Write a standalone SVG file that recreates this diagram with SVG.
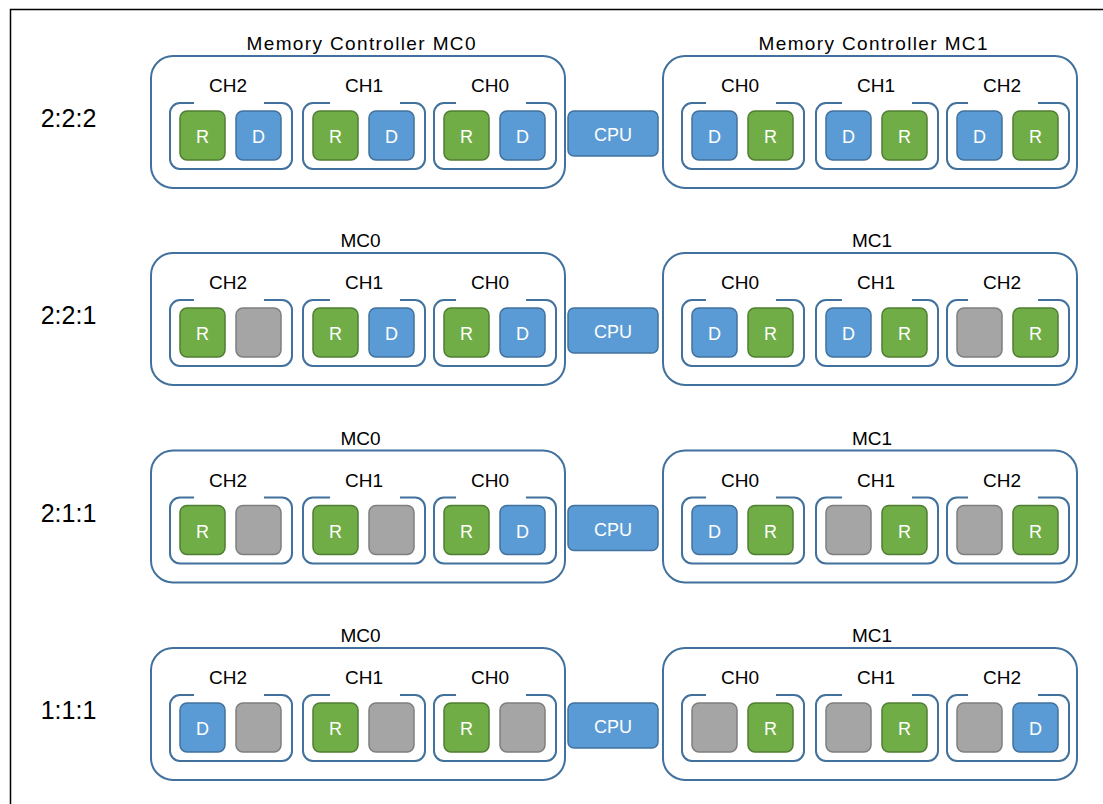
<svg xmlns="http://www.w3.org/2000/svg" xmlns:xlink="http://www.w3.org/1999/xlink" width="1103" height="804" viewBox="0 0 1103 804">
<style>
.frame{fill:none;stroke:#000;stroke-width:1.5}
.mc{fill:#fff;stroke:#41719C;stroke-width:2}
.ch{fill:none;stroke:#41719C;stroke-width:2}
.r{fill:#70AD47;stroke:#507E32;stroke-width:1.5}
.d{fill:#5B9BD5;stroke:#41719C;stroke-width:1.5}
.g{fill:#A5A5A5;stroke:#7F7F7F;stroke-width:1.5}
.cpu{fill:#5B9BD5;stroke:#41719C;stroke-width:1.5}
text{font-family:"Liberation Sans",Arial,sans-serif;font-size:19px;fill:#000;text-anchor:middle}
text.w{fill:#fff;font-size:18px}
text.row{font-size:25px}
</style>
<defs>
<path id="cA" class="ch" d="M24,0H10A10,10 0 0 0 0,10V56A10,10 0 0 0 10,66H112A10,10 0 0 0 122,56V10A10,10 0 0 0 112,0H94"/>
<path id="cB" class="ch" d="M27,0H10A10,10 0 0 0 0,10V56A10,10 0 0 0 10,66H112A10,10 0 0 0 122,56V10A10,10 0 0 0 112,0H97"/>
<path id="cC" class="ch" d="M22,0H10A10,10 0 0 0 0,10V56A10,10 0 0 0 10,66H112A10,10 0 0 0 122,56V10A10,10 0 0 0 112,0H92"/>
<path id="cD" class="ch" d="M24,0H10A10,10 0 0 0 0,10V56A10,10 0 0 0 10,66H112A10,10 0 0 0 122,56V10A10,10 0 0 0 112,0H94"/>
<path id="cE" class="ch" d="M26,0H10A10,10 0 0 0 0,10V56A10,10 0 0 0 10,66H112A10,10 0 0 0 122,56V10A10,10 0 0 0 112,0H96"/>
<path id="cF" class="ch" d="M21,0H10A10,10 0 0 0 0,10V56A10,10 0 0 0 10,66H112A10,10 0 0 0 122,56V10A10,10 0 0 0 112,0H91"/>
</defs>
<path id="frame" class="frame" d="M10.5,804V9.5H1103"/>

<!-- Row 1 -->
<g id="row1">
<text class="row" x="68.5" y="127">2:2:2</text>
<g id="r1-mc0"><rect class="mc" x="151" y="56" width="414" height="132" rx="22"/><text x="361" y="50" textLength="229" lengthAdjust="spacing">Memory Controller MC0</text></g>
<g id="r1-mc0-ch2" transform="translate(170,103)"><use href="#cA"/><text x="58" y="-11">CH2</text>
<g id="r1-mc0-ch2-d1"><rect class="r" x="10" y="8" width="45" height="49" rx="7"/><text class="w" x="32.5" y="40">R</text></g>
<g id="r1-mc0-ch2-d2"><rect class="d" x="66" y="8" width="45" height="49" rx="7"/><text class="w" x="88.5" y="40">D</text></g></g>
<g id="r1-mc0-ch1" transform="translate(303,103)"><use href="#cB"/><text x="61" y="-11">CH1</text>
<g id="r1-mc0-ch1-d1"><rect class="r" x="10" y="8" width="45" height="49" rx="7"/><text class="w" x="32.5" y="40">R</text></g>
<g id="r1-mc0-ch1-d2"><rect class="d" x="66" y="8" width="45" height="49" rx="7"/><text class="w" x="88.5" y="40">D</text></g></g>
<g id="r1-mc0-ch0" transform="translate(434,103)"><use href="#cC"/><text x="56" y="-11">CH0</text>
<g id="r1-mc0-ch0-d1"><rect class="r" x="10" y="8" width="45" height="49" rx="7"/><text class="w" x="32.5" y="40">R</text></g>
<g id="r1-mc0-ch0-d2"><rect class="d" x="66" y="8" width="45" height="49" rx="7"/><text class="w" x="88.5" y="40">D</text></g></g>
<g id="r1-cpu"><rect class="cpu" x="568" y="111" width="90" height="45" rx="6"/><text class="w" x="613" y="141">CPU</text></g>
<g id="r1-mc1"><rect class="mc" x="663" y="56" width="414" height="132" rx="22"/><text x="873" y="50" textLength="229" lengthAdjust="spacing">Memory Controller MC1</text></g>
<g id="r1-mc1-ch0" transform="translate(682,103)"><use href="#cD"/><text x="58" y="-11">CH0</text>
<g id="r1-mc1-ch0-d1"><rect class="d" x="10" y="8" width="45" height="49" rx="7"/><text class="w" x="32.5" y="40">D</text></g>
<g id="r1-mc1-ch0-d2"><rect class="r" x="66" y="8" width="45" height="49" rx="7"/><text class="w" x="88.5" y="40">R</text></g></g>
<g id="r1-mc1-ch1" transform="translate(816,103)"><use href="#cE"/><text x="60" y="-11">CH1</text>
<g id="r1-mc1-ch1-d1"><rect class="d" x="10" y="8" width="45" height="49" rx="7"/><text class="w" x="32.5" y="40">D</text></g>
<g id="r1-mc1-ch1-d2"><rect class="r" x="66" y="8" width="45" height="49" rx="7"/><text class="w" x="88.5" y="40">R</text></g></g>
<g id="r1-mc1-ch2" transform="translate(947,103)"><use href="#cF"/><text x="55" y="-11">CH2</text>
<g id="r1-mc1-ch2-d1"><rect class="d" x="10" y="8" width="45" height="49" rx="7"/><text class="w" x="32.5" y="40">D</text></g>
<g id="r1-mc1-ch2-d2"><rect class="r" x="66" y="8" width="45" height="49" rx="7"/><text class="w" x="88.5" y="40">R</text></g></g>
</g>

<!-- Row 2 -->
<g id="row2" transform="translate(0,197)">
<text class="row" x="68.5" y="127">2:2:1</text>
<g id="r2-mc0"><rect class="mc" x="151" y="56" width="414" height="132" rx="22"/><text x="360.5" y="50">MC0</text></g>
<g id="r2-mc0-ch2" transform="translate(170,103)"><use href="#cA"/><text x="58" y="-11">CH2</text>
<g id="r2-mc0-ch2-d1"><rect class="r" x="10" y="8" width="45" height="49" rx="7"/><text class="w" x="32.5" y="40">R</text></g>
<g id="r2-mc0-ch2-d2"><rect class="g" x="66" y="8" width="45" height="49" rx="7"/></g></g>
<g id="r2-mc0-ch1" transform="translate(303,103)"><use href="#cB"/><text x="61" y="-11">CH1</text>
<g id="r2-mc0-ch1-d1"><rect class="r" x="10" y="8" width="45" height="49" rx="7"/><text class="w" x="32.5" y="40">R</text></g>
<g id="r2-mc0-ch1-d2"><rect class="d" x="66" y="8" width="45" height="49" rx="7"/><text class="w" x="88.5" y="40">D</text></g></g>
<g id="r2-mc0-ch0" transform="translate(434,103)"><use href="#cC"/><text x="56" y="-11">CH0</text>
<g id="r2-mc0-ch0-d1"><rect class="r" x="10" y="8" width="45" height="49" rx="7"/><text class="w" x="32.5" y="40">R</text></g>
<g id="r2-mc0-ch0-d2"><rect class="d" x="66" y="8" width="45" height="49" rx="7"/><text class="w" x="88.5" y="40">D</text></g></g>
<g id="r2-cpu"><rect class="cpu" x="568" y="111" width="90" height="45" rx="6"/><text class="w" x="613" y="141">CPU</text></g>
<g id="r2-mc1"><rect class="mc" x="663" y="56" width="414" height="132" rx="22"/><text x="872" y="50">MC1</text></g>
<g id="r2-mc1-ch0" transform="translate(682,103)"><use href="#cD"/><text x="58" y="-11">CH0</text>
<g id="r2-mc1-ch0-d1"><rect class="d" x="10" y="8" width="45" height="49" rx="7"/><text class="w" x="32.5" y="40">D</text></g>
<g id="r2-mc1-ch0-d2"><rect class="r" x="66" y="8" width="45" height="49" rx="7"/><text class="w" x="88.5" y="40">R</text></g></g>
<g id="r2-mc1-ch1" transform="translate(816,103)"><use href="#cE"/><text x="60" y="-11">CH1</text>
<g id="r2-mc1-ch1-d1"><rect class="d" x="10" y="8" width="45" height="49" rx="7"/><text class="w" x="32.5" y="40">D</text></g>
<g id="r2-mc1-ch1-d2"><rect class="r" x="66" y="8" width="45" height="49" rx="7"/><text class="w" x="88.5" y="40">R</text></g></g>
<g id="r2-mc1-ch2" transform="translate(947,103)"><use href="#cF"/><text x="55" y="-11">CH2</text>
<g id="r2-mc1-ch2-d1"><rect class="g" x="10" y="8" width="45" height="49" rx="7"/></g>
<g id="r2-mc1-ch2-d2"><rect class="r" x="66" y="8" width="45" height="49" rx="7"/><text class="w" x="88.5" y="40">R</text></g></g>
</g>

<!-- Row 3 -->
<g id="row3" transform="translate(0,394.5)">
<text class="row" x="68.5" y="127">2:1:1</text>
<g id="r3-mc0"><rect class="mc" x="151" y="56" width="414" height="132" rx="22"/><text x="360.5" y="50">MC0</text></g>
<g id="r3-mc0-ch2" transform="translate(170,103)"><use href="#cA"/><text x="58" y="-11">CH2</text>
<g id="r3-mc0-ch2-d1"><rect class="r" x="10" y="8" width="45" height="49" rx="7"/><text class="w" x="32.5" y="40">R</text></g>
<g id="r3-mc0-ch2-d2"><rect class="g" x="66" y="8" width="45" height="49" rx="7"/></g></g>
<g id="r3-mc0-ch1" transform="translate(303,103)"><use href="#cB"/><text x="61" y="-11">CH1</text>
<g id="r3-mc0-ch1-d1"><rect class="r" x="10" y="8" width="45" height="49" rx="7"/><text class="w" x="32.5" y="40">R</text></g>
<g id="r3-mc0-ch1-d2"><rect class="g" x="66" y="8" width="45" height="49" rx="7"/></g></g>
<g id="r3-mc0-ch0" transform="translate(434,103)"><use href="#cC"/><text x="56" y="-11">CH0</text>
<g id="r3-mc0-ch0-d1"><rect class="r" x="10" y="8" width="45" height="49" rx="7"/><text class="w" x="32.5" y="40">R</text></g>
<g id="r3-mc0-ch0-d2"><rect class="d" x="66" y="8" width="45" height="49" rx="7"/><text class="w" x="88.5" y="40">D</text></g></g>
<g id="r3-cpu"><rect class="cpu" x="568" y="111" width="90" height="45" rx="6"/><text class="w" x="613" y="141">CPU</text></g>
<g id="r3-mc1"><rect class="mc" x="663" y="56" width="414" height="132" rx="22"/><text x="872" y="50">MC1</text></g>
<g id="r3-mc1-ch0" transform="translate(682,103)"><use href="#cD"/><text x="58" y="-11">CH0</text>
<g id="r3-mc1-ch0-d1"><rect class="d" x="10" y="8" width="45" height="49" rx="7"/><text class="w" x="32.5" y="40">D</text></g>
<g id="r3-mc1-ch0-d2"><rect class="r" x="66" y="8" width="45" height="49" rx="7"/><text class="w" x="88.5" y="40">R</text></g></g>
<g id="r3-mc1-ch1" transform="translate(816,103)"><use href="#cE"/><text x="60" y="-11">CH1</text>
<g id="r3-mc1-ch1-d1"><rect class="g" x="10" y="8" width="45" height="49" rx="7"/></g>
<g id="r3-mc1-ch1-d2"><rect class="r" x="66" y="8" width="45" height="49" rx="7"/><text class="w" x="88.5" y="40">R</text></g></g>
<g id="r3-mc1-ch2" transform="translate(947,103)"><use href="#cF"/><text x="55" y="-11">CH2</text>
<g id="r3-mc1-ch2-d1"><rect class="g" x="10" y="8" width="45" height="49" rx="7"/></g>
<g id="r3-mc1-ch2-d2"><rect class="r" x="66" y="8" width="45" height="49" rx="7"/><text class="w" x="88.5" y="40">R</text></g></g>
</g>

<!-- Row 4 -->
<g id="row4" transform="translate(0,592)">
<text class="row" x="68.5" y="127">1:1:1</text>
<g id="r4-mc0"><rect class="mc" x="151" y="56" width="414" height="132" rx="22"/><text x="360.5" y="50">MC0</text></g>
<g id="r4-mc0-ch2" transform="translate(170,103)"><use href="#cA"/><text x="58" y="-11">CH2</text>
<g id="r4-mc0-ch2-d1"><rect class="d" x="10" y="8" width="45" height="49" rx="7"/><text class="w" x="32.5" y="40">D</text></g>
<g id="r4-mc0-ch2-d2"><rect class="g" x="66" y="8" width="45" height="49" rx="7"/></g></g>
<g id="r4-mc0-ch1" transform="translate(303,103)"><use href="#cB"/><text x="61" y="-11">CH1</text>
<g id="r4-mc0-ch1-d1"><rect class="r" x="10" y="8" width="45" height="49" rx="7"/><text class="w" x="32.5" y="40">R</text></g>
<g id="r4-mc0-ch1-d2"><rect class="g" x="66" y="8" width="45" height="49" rx="7"/></g></g>
<g id="r4-mc0-ch0" transform="translate(434,103)"><use href="#cC"/><text x="56" y="-11">CH0</text>
<g id="r4-mc0-ch0-d1"><rect class="r" x="10" y="8" width="45" height="49" rx="7"/><text class="w" x="32.5" y="40">R</text></g>
<g id="r4-mc0-ch0-d2"><rect class="g" x="66" y="8" width="45" height="49" rx="7"/></g></g>
<g id="r4-cpu"><rect class="cpu" x="568" y="111" width="90" height="45" rx="6"/><text class="w" x="613" y="141">CPU</text></g>
<g id="r4-mc1"><rect class="mc" x="663" y="56" width="414" height="132" rx="22"/><text x="872" y="50">MC1</text></g>
<g id="r4-mc1-ch0" transform="translate(682,103)"><use href="#cD"/><text x="58" y="-11">CH0</text>
<g id="r4-mc1-ch0-d1"><rect class="g" x="10" y="8" width="45" height="49" rx="7"/></g>
<g id="r4-mc1-ch0-d2"><rect class="r" x="66" y="8" width="45" height="49" rx="7"/><text class="w" x="88.5" y="40">R</text></g></g>
<g id="r4-mc1-ch1" transform="translate(816,103)"><use href="#cE"/><text x="60" y="-11">CH1</text>
<g id="r4-mc1-ch1-d1"><rect class="g" x="10" y="8" width="45" height="49" rx="7"/></g>
<g id="r4-mc1-ch1-d2"><rect class="r" x="66" y="8" width="45" height="49" rx="7"/><text class="w" x="88.5" y="40">R</text></g></g>
<g id="r4-mc1-ch2" transform="translate(947,103)"><use href="#cF"/><text x="55" y="-11">CH2</text>
<g id="r4-mc1-ch2-d1"><rect class="g" x="10" y="8" width="45" height="49" rx="7"/></g>
<g id="r4-mc1-ch2-d2"><rect class="d" x="66" y="8" width="45" height="49" rx="7"/><text class="w" x="88.5" y="40">D</text></g></g>
</g>
</svg>
